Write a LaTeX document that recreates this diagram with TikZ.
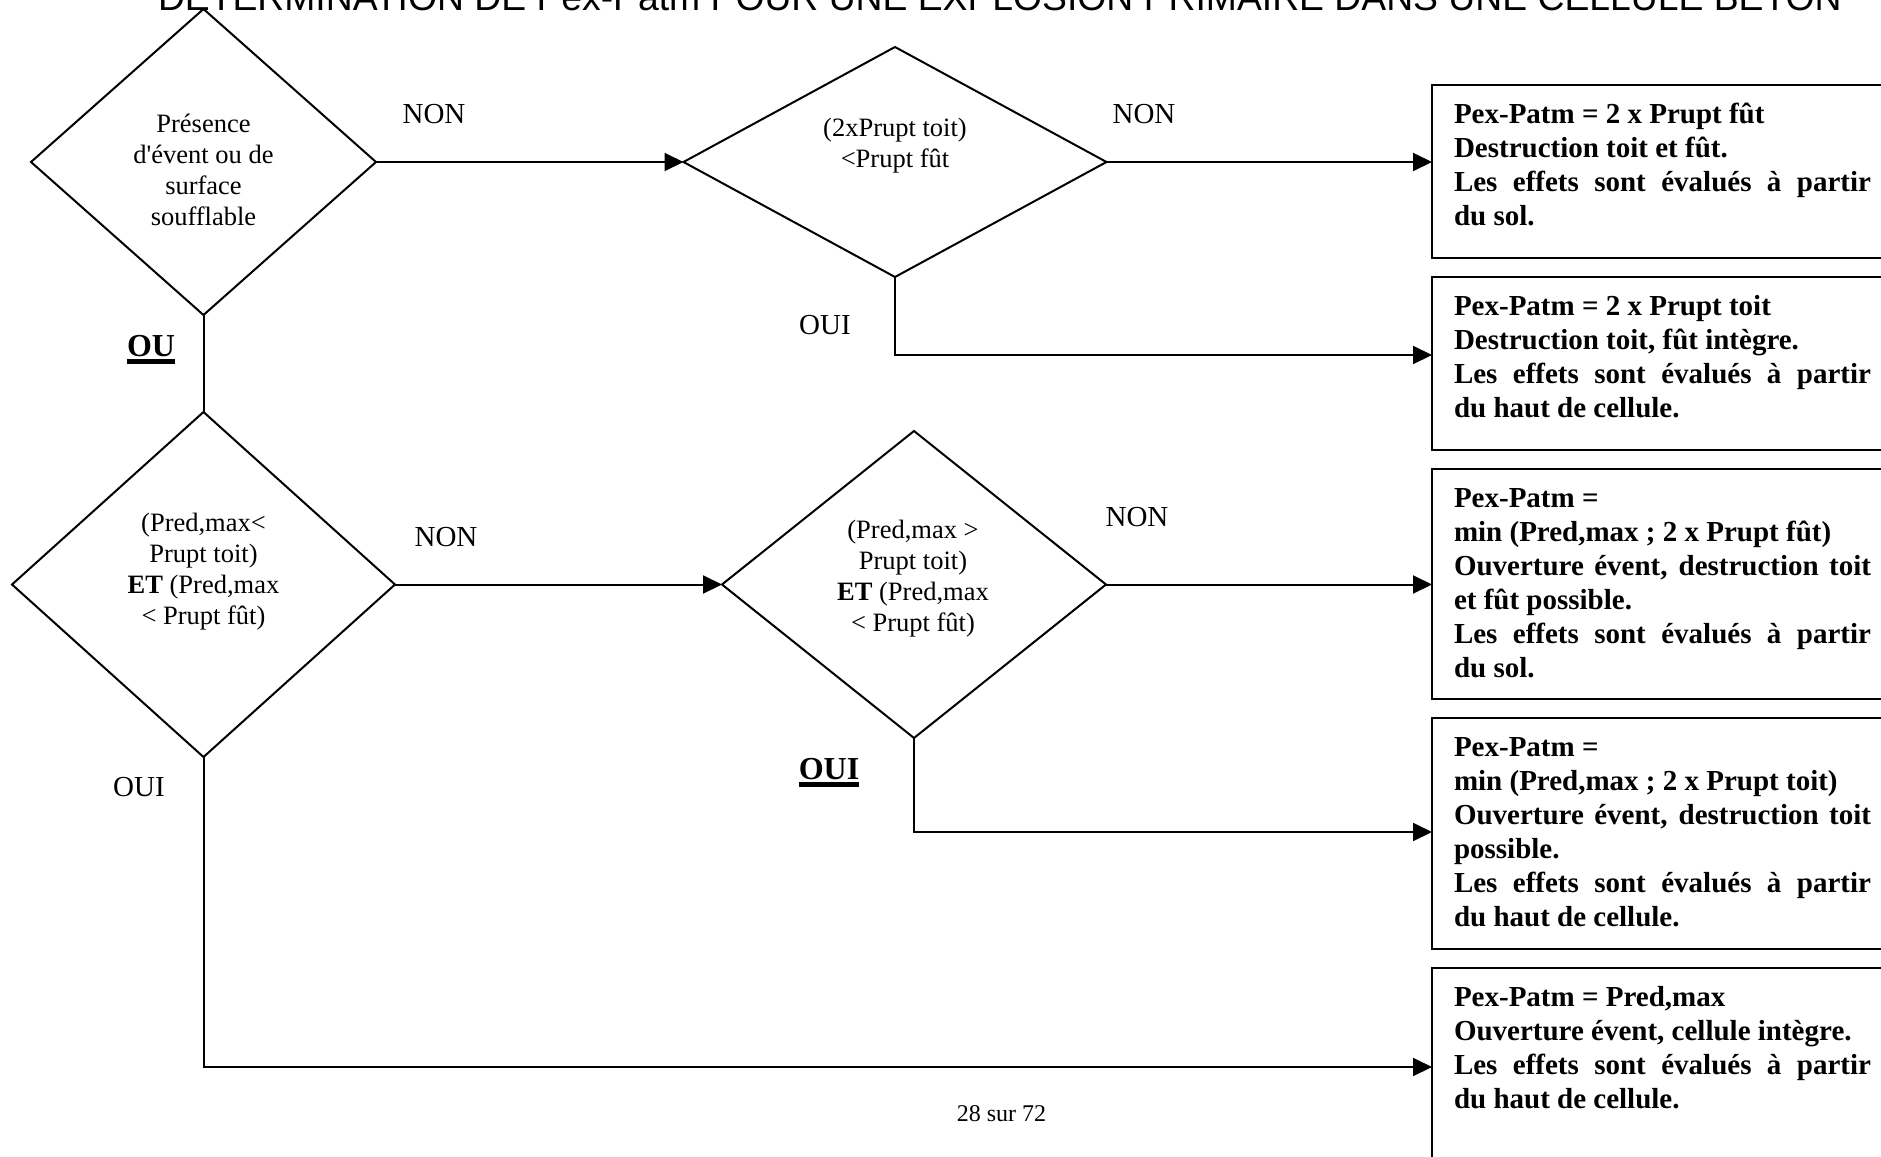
\documentclass[tikz,border=0pt]{standalone}
\usepackage{fontspec}
\newfontfamily\tnr{Liberation Serif}
\newfontfamily\arial{Liberation Sans}
\usetikzlibrary{shapes.geometric,arrows.meta,calc}
\newsavebox\ulbox
\newcommand\thickul[1]{\sbox\ulbox{#1}\rlap{\vrule height -1.7pt depth 3.8pt width \wd\ulbox}\usebox\ulbox}
\begin{document}
\begin{tikzpicture}[x=0.5pt,y=-0.5pt,line width=1pt,
  dia/.style={diamond, draw, inner sep=0pt, outer sep=0pt},
  dtext/.style={font=\tnr\fontsize{13.25}{15.5}\selectfont, align=center, inner sep=0pt},
  lbl/.style={font=\tnr\fontsize{14.5}{17}\selectfont, inner sep=0pt, anchor=base},
  blbl/.style={font=\tnr\bfseries\fontsize{16}{19}\selectfont, inner sep=0pt, anchor=base},
  res/.style={rectangle, draw, line width=1.2pt, anchor=north west, minimum width=234pt, inner sep=0pt, outer sep=0pt},
  restext/.style={font=\tnr\bfseries\fontsize{14.5}{17}\selectfont, text width=208.5pt, align=justify, anchor=base west, inner sep=0pt},
  arr/.style={-{Triangle[length=9.5pt,width=9pt]}}]
\useasboundingbox (0,0) rectangle (1881,1157);

% title
\node[font=\arial\fontsize{18.65}{22}\selectfont, anchor=base west, inner sep=0pt] (title) at (157,10)
  {DETERMINATION DE Pex-Patm POUR UNE EXPLOSION PRIMAIRE DANS UNE CELLULE BETON};

% diamonds
\node[dia, minimum width=172.5pt, minimum height=153pt] (d1) at (203.5,162) {};
\node[dia, minimum width=211.5pt, minimum height=115pt] (d2) at (895,162) {};
\node[dia, minimum width=191.5pt, minimum height=172.5pt] (d3) at (203.5,584.5) {};
\node[dia, minimum width=192pt, minimum height=153.5pt] (d4) at (914,584.5) {};

\node[dtext] (t1) at (203.5,169.5) {Présence\\d'évent ou de\\surface\\soufflable};
\node[dtext] (t2) at (895,146) {(2xPrupt toit)\\<Prupt fût};
\node[dtext] (t3) at (203.5,572) {(Pred,max<\\Prupt toit)\\\textbf{ET} (Pred,max\\< Prupt fût)};
\node[dtext] (t4) at (913,578.5) {(Pred,max >\\Prupt toit)\\\textbf{ET} (Pred,max\\< Prupt fût)};

% result boxes
\node[res, minimum height=86.5pt] (b1) at (1432,85) {};
\node[res, minimum height=86.5pt] (b2) at (1432,277) {};
\node[res, minimum height=115pt] (b3) at (1432,469) {};
\node[res, minimum height=115.5pt] (b4) at (1432,718) {};
\node[res, minimum height=110pt] (b5) at (1432,968) {};

\node[restext] (r1) at (1453,123) {Pex-Patm = 2 x Prupt fût\par Destruction toit et fût.\par Les effets sont évalués à partir\linebreak du sol.};
\node[restext] (r2) at (1453,315) {Pex-Patm = 2 x Prupt toit\par Destruction toit, fût intègre.\par Les effets sont évalués à partir\linebreak du haut de cellule.};
\node[restext] (r3) at (1453,507) {Pex-Patm =\par min (Pred,max ; 2 x Prupt fût)\par Ouverture évent, destruction toit\linebreak et fût possible.\par Les effets sont évalués à partir\linebreak du sol.};
\node[restext] (r4) at (1453,756) {Pex-Patm =\par min (Pred,max ; 2 x Prupt toit)\par Ouverture évent, destruction toit\linebreak possible.\par Les effets sont évalués à partir\linebreak du haut de cellule.};
\node[restext] (r5) at (1453,1006) {Pex-Patm = Pred,max\par Ouverture évent, cellule intègre.\par Les effets sont évalués à partir\linebreak du haut de cellule.};

% entry points
\coordinate (b2in) at (1432,355);
\coordinate (b4in) at (1432,832);
\coordinate (b5in) at (1432,1067);

% connectors
\draw[arr] (d1.east) -- (d2.west);
\draw[arr] (d2.east) -- (d2.east -| b1.west);
\draw[arr] (d2.south) |- (b2in);
\draw (d1.south) -- (d3.north);
\draw[arr] (d3.east) -- (d4.west);
\draw[arr] (d4.east) -- (d4.east -| b3.west);
\draw[arr] (d4.south) |- (b4in);
\draw[arr] (d3.south) |- (b5in);

% labels
\node[lbl] (non1) at (434,123) {NON};
\node[lbl] (non2) at (1144,123) {NON};
\node[lbl] (oui1) at (825,334) {OUI};
\node[blbl] (ou) at (151,356) {\thickul{OU}};
\node[lbl] (non3) at (446,546) {NON};
\node[lbl] (non4) at (1137,526) {NON};
\node[blbl] (oui2) at (829,779) {\thickul{OUI}};
\node[lbl] (oui3) at (139,796) {OUI};

\node[font=\tnr\fontsize{12}{14}\selectfont, anchor=base, inner sep=0pt] (page) at (1001.5,1121) {28 sur 72};
\end{tikzpicture}
\end{document}
